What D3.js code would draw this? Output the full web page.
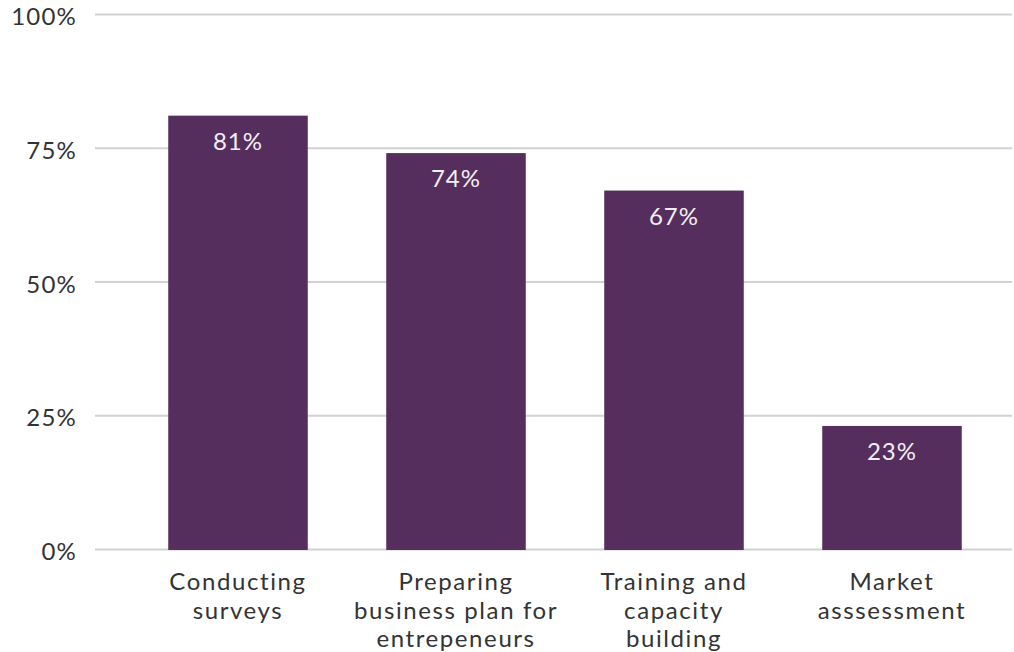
<!DOCTYPE html>
<html>
<head>
<meta charset="utf-8">
<script src="https://cdn.jsdelivr.net/npm/d3@7"></script>
<style>
  html, body { margin: 0; padding: 0; background: #ffffff; }
  svg { display: block; font-family: Lato, "Open Sans", sans-serif; }
</style>
</head>
<body>
<svg id="chart" width="1014" height="652"></svg>
<script>
// Share of respondents per activity
const categories = [
  ["Conducting", "surveys"],
  ["Preparing", "business plan for", "entrepeneurs"],
  ["Training and", "capacity", "building"],
  ["Market", "asssessment"]
];
const values = [81, 74, 67, 23];
const yTicks = [0, 25, 50, 75, 100];

const svg = d3.select("#chart");
const barColor = "#552e5e";
const textColor = "#333333";
const fontFamily = "Lato, 'Open Sans', sans-serif";
const fontSize = 24;

const keys = categories.map(c => c.join(" "));

const x = d3.scaleBand()
  .domain(keys)
  .range([129, 1001])
  .paddingInner(0.36)
  .paddingOuter(0.18);

const y = d3.scaleLinear()
  .domain([0, 100])
  .range([549, 14]);

// gridlines + y labels
const yAxis = d3.axisLeft(y)
  .tickValues(yTicks)
  .tickSize(0)
  .tickPadding(18)
  .tickFormat(d => d + "%");

const gy = svg.append("g")
  .attr("transform", "translate(95,0)")
  .call(yAxis)
  .attr("font-family", fontFamily)
  .attr("font-size", fontSize);
gy.select(".domain").remove();
gy.selectAll(".tick text")
  .attr("fill", textColor)
  .attr("letter-spacing", 1.2)
  .attr("dy", "0.44em");
gy.selectAll(".tick")
  .insert("line", "text")
  .attr("x1", 0)
  .attr("x2", 1012 - 95)
  .attr("stroke", "#d2d2d2")
  .attr("stroke-width", 2);

// bars
svg.append("g")
  .selectAll("rect")
  .data(values)
  .join("rect")
  .attr("x", (d, i) => x(keys[i]))
  .attr("y", d => y(d))
  .attr("width", x.bandwidth())
  .attr("height", d => y(0) - y(d) + 1)
  .attr("fill", barColor);

// value labels inside bars
svg.append("g")
  .selectAll("text")
  .data(values)
  .join("text")
  .attr("x", (d, i) => x(keys[i]) + x.bandwidth() / 2)
  .attr("y", d => y(d) + 34)
  .attr("text-anchor", "middle")
  .attr("fill", "#f2eef3")
  .attr("font-family", fontFamily)
  .attr("font-size", fontSize)
  .attr("letter-spacing", 1)
  .text(d => d + "%");

// category labels
const gx = svg.append("g")
  .attr("font-family", fontFamily)
  .attr("font-size", fontSize)
  .attr("letter-spacing", 1.6)
  .attr("fill", textColor);
categories.forEach((lines, i) => {
  const cx = x(keys[i]) + x.bandwidth() / 2;
  lines.forEach((ln, j) => {
    gx.append("text")
      .attr("text-anchor", "middle")
      .attr("x", cx)
      .attr("y", 590 + j * 28.5)
      .text(ln);
  });
});
</script>
</body>
</html>
